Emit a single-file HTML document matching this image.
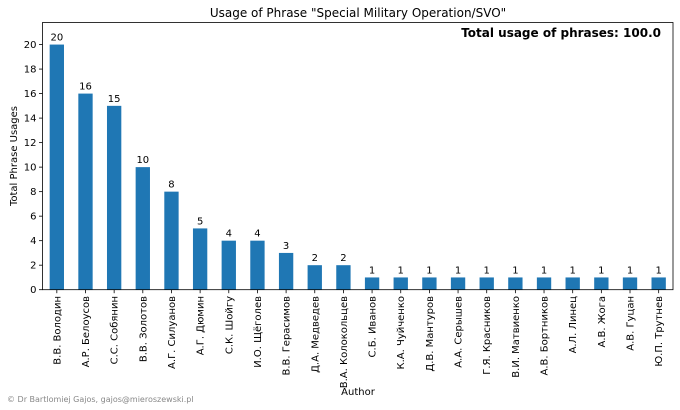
<!DOCTYPE html>
<html><head><meta charset="utf-8"><style>
body{margin:0;background:#fff;}
svg{display:block;font-family:"DejaVu Sans","Liberation Sans",sans-serif;}
</style></head><body>
<svg id="chart" width="680" height="410" viewBox="0 0 680 410">
<text x="358" y="17" font-size="12" text-anchor="middle" fill="#000">Usage of Phrase "Special Military Operation/SVO"</text>
<text x="661" y="37" font-size="12" font-weight="bold" text-anchor="end" fill="#000">Total usage of phrases: 100.0</text>
<text x="358" y="395" font-size="10" text-anchor="middle">Author</text>
<text transform="translate(17,156) rotate(-90)" font-size="10" text-anchor="middle">Total Phrase Usages</text>
<text x="7" y="402" font-size="8" fill="#888">© Dr Bartlomiej Gajos, gajos@mieroszewski.pl</text>
<g id="plot"></g>
</svg>
<script>
const categories=["В.В. Володин","А.Р. Белоусов","С.С. Собянин","В.В. Золотов","А.Г. Силуанов","А.Г. Дюмин","С.К. Шойгу","И.О. Щёголев","В.В. Герасимов","Д.А. Медведев","В.А. Колокольцев","С.Б. Иванов","К.А. Чуйченко","Д.В. Мантуров","А.А. Серышев","Г.Я. Красников","В.И. Матвиенко","А.В. Бортников","А.Л. Линец","А.В. Жога","А.В. Гуцан","Ю.П. Трутнев"];
const values=[20,16,15,10,8,5,4,4,3,2,2,1,1,1,1,1,1,1,1,1,1,1];
const yTicks=[0,2,4,6,8,10,12,14,16,18,20];
const L=42.5,R=673,T=22.5,B=289.7,YMAX=21.8;
const NS="http://www.w3.org/2000/svg";
const g=document.getElementById('plot');
const n=categories.length;
const step=(R-L)/n;
const xC=i=>L+step*(i+0.5);
const y=v=>B-(v/YMAX)*(B-T);
function mk(t,a){const e=document.createElementNS(NS,t);for(const k in a)e.setAttribute(k,a[k]);g.appendChild(e);return e;}
yTicks.forEach(v=>{
  const l=mk('line',{x1:L-3.5,x2:L,y1:y(v),y2:y(v),stroke:'#000','stroke-width':0.8});
  
  
  const t=mk('text',{x:L-6,y:y(v)+3.5,'font-size':10,'text-anchor':'end'});t.textContent=v;
  
  
});
categories.forEach((c,i)=>{
  const bw=step*0.5;
  const r=mk('rect',{x:xC(i)-bw/2,y:y(values[i]),width:bw,height:B-y(values[i]),fill:'#1f77b4'});
  
  
  const v=mk('text',{x:xC(i),y:y(values[i])-4,'font-size':10,'text-anchor':'middle'});v.textContent=values[i];
  
  
  const tk=mk('line',{x1:xC(i),x2:xC(i),y1:B,y2:B+3.5,stroke:'#000','stroke-width':0.8});
  
  
  const t=mk('text',{transform:`translate(${xC(i)+3.5},296) rotate(-90)`,'font-size':10,'text-anchor':'end'});t.textContent=c;
  
  
});
const f=mk('rect',{x:L,y:T,width:R-L,height:B-T,fill:'none',stroke:'#000','stroke-width':0.8});


</script>
</body></html>
